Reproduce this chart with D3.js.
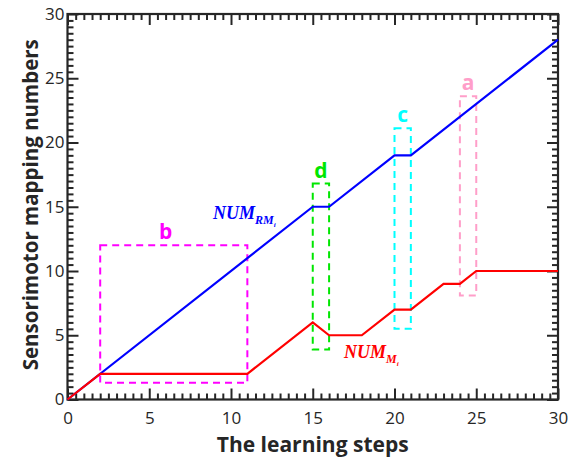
<!DOCTYPE html>
<html>
<head>
<meta charset="utf-8">
<script src="https://cdn.jsdelivr.net/npm/d3@7"></script>
<style>
  body { margin: 0; background: #fff; }
  text { font-family: "Open Sans", "Noto Sans", sans-serif; }
</style>
</head>
<body>
<div id="chart"></div>
<script>
// learning steps and mapping counts
var stepsRM = [0, 15, 16, 20, 21, 30];
var numRM   = [0, 15, 15, 19, 19, 28];
var stepsM  = [0, 2, 11, 15, 16, 18, 20, 21, 23, 24, 25, 30];
var numM    = [0, 2, 2, 6, 5, 5, 7, 7, 9, 9, 10, 10];

var xTicks = [0, 5, 10, 15, 20, 25, 30];
var yTicks = [0, 5, 10, 15, 20, 25, 30];

// highlighted boxes: label, x0, x1, y0, y1, label step
var boxNames = ["b", "d", "c", "a"];
var boxX0 = [2, 15, 20, 24];
var boxX1 = [11, 16, 21, 25];
var boxY0 = [1.3, 3.9, 5.5, 8.1];
var boxY1 = [12, 16.8, 21.1, 23.6];
var boxLabelX = [6, 15.5, 20.5, 24.5];
var boxColors = ["#ff00ff", "#00e600", "#00ffff", "#ff9ec9"];

var W = 579, H = 460;
var m = {left: 67.5, right: 21, top: 14, bottom: 60.5};

var svg = d3.select("#chart").append("svg")
  .attr("width", W)
  .attr("height", H);

var x = d3.scaleLinear().domain([0, 30]).range([m.left, W - m.right]);
var y = d3.scaleLinear().domain([0, 30]).range([H - m.bottom, m.top]);

var minor = d3.range(0, 30.01, 0.5).filter(function (v) { return v % 5 !== 0; });
var axisColor = "#262626";

// box frame
svg.append("rect")
  .attr("x", x(0)).attr("y", y(30))
  .attr("width", x(30) - x(0)).attr("height", y(0) - y(30))
  .attr("fill", "none").attr("stroke", axisColor).attr("stroke-width", 2.2);

function ticks(axisFn, scale, vals, len, tr, labels) {
  var g = svg.append("g").attr("transform", tr)
    .call(axisFn(scale).tickValues(vals).tickSize(len).tickSizeOuter(0)
      .tickFormat(labels ? d3.format("d") : ""));
  g.select(".domain").remove();
  g.selectAll("line").attr("stroke", axisColor).attr("stroke-width", 2);
  g.selectAll("text").attr("fill", axisColor).style("font-size", "17px");
  return g;
}

// bottom and top, ticks inward
ticks(d3.axisBottom, x, xTicks, -11, "translate(0," + y(0) + ")", true)
  .selectAll("text").attr("y", 12);
ticks(d3.axisBottom, x, minor, -6, "translate(0," + y(0) + ")", false);
ticks(d3.axisTop, x, xTicks, -11, "translate(0," + y(30) + ")", false);
ticks(d3.axisTop, x, minor, -6, "translate(0," + y(30) + ")", false);
// left and right
ticks(d3.axisLeft, y, yTicks, -11, "translate(" + x(0) + ",0)", true)
  .selectAll("text").attr("x", -3);
ticks(d3.axisLeft, y, minor, -6, "translate(" + x(0) + ",0)", false);
ticks(d3.axisRight, y, yTicks, -11, "translate(" + x(30) + ",0)", false);
ticks(d3.axisRight, y, minor, -6, "translate(" + x(30) + ",0)", false);

// axis titles
svg.append("text")
  .attr("x", (x(0) + x(30)) / 2).attr("y", 452)
  .attr("text-anchor", "middle")
  .style("font-size", "21px").style("font-weight", "bold")
  .attr("fill", axisColor)
  .text("The learning steps");

svg.append("text")
  .attr("transform", "translate(38," + (y(15) - 2) + ") rotate(-90)")
  .attr("text-anchor", "middle")
  .style("font-size", "20.5px").style("font-weight", "bold")
  .attr("fill", axisColor)
  .text("Sensorimotor mapping numbers");

// dashed boxes
boxNames.forEach(function (n, i) {
  svg.append("rect")
    .attr("x", x(boxX0[i])).attr("y", y(boxY1[i]))
    .attr("width", x(boxX1[i]) - x(boxX0[i]))
    .attr("height", y(boxY0[i]) - y(boxY1[i]))
    .attr("fill", "none")
    .attr("stroke", boxColors[i])
    .attr("stroke-width", 2)
    .attr("stroke-dasharray", "7,5");
  svg.append("text")
    .attr("x", x(boxLabelX[i]))
    .attr("y", y(boxY1[i]) - 6)
    .attr("text-anchor", "middle")
    .style("font-size", "21px").style("font-weight", "bold")
    .attr("fill", boxColors[i])
    .text(n);
});

var line = d3.line()
  .x(function (d) { return x(d[0]); })
  .y(function (d) { return y(d[1]); });

svg.append("path")
  .datum(d3.zip(stepsRM, numRM))
  .attr("d", line)
  .attr("fill", "none").attr("stroke", "#0000ff").attr("stroke-width", 2.2);

svg.append("path")
  .datum(d3.zip(stepsM, numM))
  .attr("d", line)
  .attr("fill", "none").attr("stroke", "#ff0000").attr("stroke-width", 2.2);

// series labels
function seriesLabel(px, py, sub, color) {
  var t = svg.append("text")
    .attr("x", px).attr("y", py)
    .attr("fill", color)
    .style("font-family", "'Liberation Serif', 'DejaVu Serif', serif")
    .style("font-style", "italic").style("font-weight", "bold")
    .style("font-size", "18px");
  t.append("tspan").text("NUM");
  t.append("tspan").attr("dy", 5).style("font-size", "12px").text(sub);
  t.append("tspan").attr("dy", 3).style("font-size", "7px").text("i");
}
seriesLabel(213, 219, "RM", "#0000ff");
seriesLabel(344, 358, "M", "#ff0000");
</script>
</body>
</html>
